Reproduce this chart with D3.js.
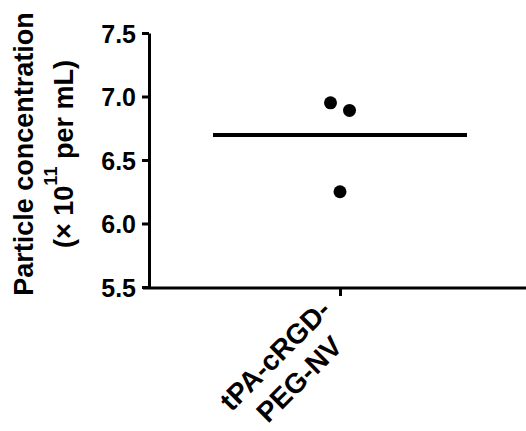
<!DOCTYPE html>
<html>
<head>
<meta charset="utf-8">
<script src="https://cdn.jsdelivr.net/npm/d3@7"></script>
<style>
	body { margin: 0; background: #fff; }
	svg { display: block; font-family: "Liberation Sans", Arial, sans-serif; font-weight: bold; }
</style>
</head>
<body>
<div id="chart"></div>
<script>
// data
var categories = ["tPA-cRGD-PEG-NV"];
var labelLines = ["tPA-cRGD-", "PEG-NV"];
var values = [6.95, 6.89, 6.25];
var jitterSlots = [-1, 1, 0];
var yTicks = [5.5, 6.0, 6.5, 7.0, 7.5];

var width = 526, height = 431;

var svg = d3.select("#chart").append("svg")
	.attr("width", width)
	.attr("height", height);

var x = d3.scalePoint()
	.domain(categories)
	.range([149, 531])
	.padding(0.5);

var y = d3.scaleLinear()
	.domain([5.5, 7.5])
	.range([287, 33]);

var jitter = d3.scaleLinear().domain([-1, 1]).range([-9.5, 9.5]);

// y axis
var yAxis = svg.append("g")
	.attr("transform", "translate(149,0)")
	.call(d3.axisLeft(y).tickValues(yTicks).tickFormat(d3.format(".1f")).tickSize(7).tickSizeOuter(0));
yAxis.select(".domain").attr("stroke-width", 3);
yAxis.selectAll(".tick line").attr("stroke-width", 3);
yAxis.selectAll(".tick text")
	.attr("x", -13)
	.attr("dy", "0.36em")
	.style("font-size", "25px")
	.style("font-weight", "bold")
	.style("font-family", "'Liberation Sans', Arial, sans-serif")
	.attr("fill", "#000");

// x axis
var xAxis = svg.append("g")
	.attr("transform", "translate(0,288)")
	.call(d3.axisBottom(x).tickSize(8).tickSizeOuter(0).tickFormat(""));
xAxis.select(".domain").attr("stroke-width", 3).attr("d", "M143,0H531");
xAxis.selectAll(".tick line").attr("stroke-width", 3);

// rotated category label
var x0 = x(categories[0]);
var lbl = svg.append("text")
	.attr("transform", "translate(" + (x0 - 58) + ",362) rotate(-45)")
	.attr("text-anchor", "middle")
	.style("font-size", "28px");
lbl.selectAll("tspan")
	.data(labelLines)
	.enter().append("tspan")
	.attr("x", 0)
	.attr("dy", function(d, i){ return i ? 34 : 0; })
	.text(function(d){ return d; });

// y title
var title = svg.append("text")
	.attr("transform", "translate(33,154) rotate(-90)")
	.attr("text-anchor", "middle")
	.style("font-size", "27px");
title.append("tspan").attr("x", 0).text("Particle concentration");
var t2 = title.append("tspan").attr("x", 0).attr("dy", 40);
t2.append("tspan").text("(\u00d7 10");
t2.append("tspan").attr("dy", -16).style("font-size", "18px").text("11");
t2.append("tspan").attr("dy", 16).text(" per mL)");

// mean line
var mean = d3.mean(values);
svg.append("line")
	.attr("x1", x0 - 127)
	.attr("x2", x0 + 127)
	.attr("y1", y(mean))
	.attr("y2", y(mean))
	.attr("stroke", "#000")
	.attr("stroke-width", 4);

// points
svg.append("g")
	.selectAll("circle")
	.data(values)
	.enter().append("circle")
	.attr("cx", function(d, i){ return x0 + jitter(jitterSlots[i]); })
	.attr("cy", function(d){ return y(d); })
	.attr("r", 6.5)
	.attr("fill", "#000");
</script>
</body>
</html>
